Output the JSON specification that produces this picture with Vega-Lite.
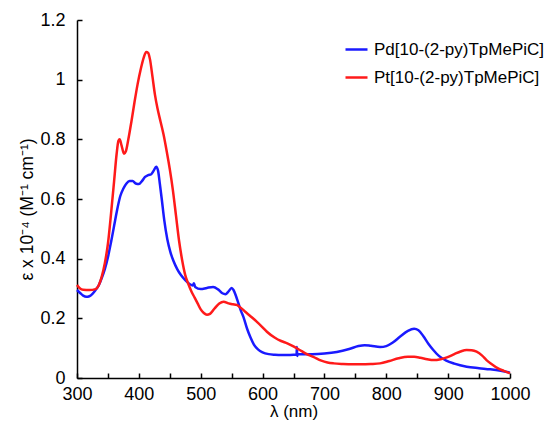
{
  "$schema": "https://vega.github.io/schema/vega-lite/v6.json",
  "width": 433,
  "height": 358,
  "autosize": {"type": "none"},
  "padding": {"left": 77, "top": 20, "right": 40, "bottom": 45},
  "background": "white",
  "config": {
    "view": {"stroke": null},
    "font": "Liberation Sans",
    "axis": {
      "grid": false,
      "domainColor": "black",
      "domainWidth": 1.5,
      "tickColor": "black",
      "tickWidth": 1.5,
      "tickSize": -5,
      "labelFont": "Liberation Sans",
      "labelFontSize": 18,
      "labelColor": "black",
      "labelFlush": false,
      "titleFont": "Liberation Sans",
      "titleFontSize": 17.5,
      "titleFontWeight": "normal",
      "titleColor": "black"
    },
    "legend": {
      "labelFont": "Liberation Sans",
      "labelFontSize": 17,
      "labelColor": "black",
      "labelLimit": 0
    }
  },
  "data": {
    "values": [
      {"wl": 300, "eps": 0.295, "complex": "Pd[10-(2-py)TpMePiC]"},
      {"wl": 305, "eps": 0.285, "complex": "Pd[10-(2-py)TpMePiC]"},
      {"wl": 310, "eps": 0.276, "complex": "Pd[10-(2-py)TpMePiC]"},
      {"wl": 315, "eps": 0.272, "complex": "Pd[10-(2-py)TpMePiC]"},
      {"wl": 320, "eps": 0.274, "complex": "Pd[10-(2-py)TpMePiC]"},
      {"wl": 325, "eps": 0.282, "complex": "Pd[10-(2-py)TpMePiC]"},
      {"wl": 330, "eps": 0.295, "complex": "Pd[10-(2-py)TpMePiC]"},
      {"wl": 335, "eps": 0.31, "complex": "Pd[10-(2-py)TpMePiC]"},
      {"wl": 340, "eps": 0.335, "complex": "Pd[10-(2-py)TpMePiC]"},
      {"wl": 345, "eps": 0.365, "complex": "Pd[10-(2-py)TpMePiC]"},
      {"wl": 350, "eps": 0.405, "complex": "Pd[10-(2-py)TpMePiC]"},
      {"wl": 355, "eps": 0.455, "complex": "Pd[10-(2-py)TpMePiC]"},
      {"wl": 360, "eps": 0.51, "complex": "Pd[10-(2-py)TpMePiC]"},
      {"wl": 365, "eps": 0.565, "complex": "Pd[10-(2-py)TpMePiC]"},
      {"wl": 370, "eps": 0.61, "complex": "Pd[10-(2-py)TpMePiC]"},
      {"wl": 375, "eps": 0.635, "complex": "Pd[10-(2-py)TpMePiC]"},
      {"wl": 380, "eps": 0.652, "complex": "Pd[10-(2-py)TpMePiC]"},
      {"wl": 385, "eps": 0.66, "complex": "Pd[10-(2-py)TpMePiC]"},
      {"wl": 390, "eps": 0.66, "complex": "Pd[10-(2-py)TpMePiC]"},
      {"wl": 395, "eps": 0.652, "complex": "Pd[10-(2-py)TpMePiC]"},
      {"wl": 400, "eps": 0.65, "complex": "Pd[10-(2-py)TpMePiC]"},
      {"wl": 405, "eps": 0.66, "complex": "Pd[10-(2-py)TpMePiC]"},
      {"wl": 410, "eps": 0.674, "complex": "Pd[10-(2-py)TpMePiC]"},
      {"wl": 415, "eps": 0.68, "complex": "Pd[10-(2-py)TpMePiC]"},
      {"wl": 420, "eps": 0.683, "complex": "Pd[10-(2-py)TpMePiC]"},
      {"wl": 424, "eps": 0.695, "complex": "Pd[10-(2-py)TpMePiC]"},
      {"wl": 428, "eps": 0.708, "complex": "Pd[10-(2-py)TpMePiC]"},
      {"wl": 431, "eps": 0.695, "complex": "Pd[10-(2-py)TpMePiC]"},
      {"wl": 434, "eps": 0.65, "complex": "Pd[10-(2-py)TpMePiC]"},
      {"wl": 437, "eps": 0.6, "complex": "Pd[10-(2-py)TpMePiC]"},
      {"wl": 441, "eps": 0.53, "complex": "Pd[10-(2-py)TpMePiC]"},
      {"wl": 446, "eps": 0.465, "complex": "Pd[10-(2-py)TpMePiC]"},
      {"wl": 451, "eps": 0.422, "complex": "Pd[10-(2-py)TpMePiC]"},
      {"wl": 456, "eps": 0.392, "complex": "Pd[10-(2-py)TpMePiC]"},
      {"wl": 462, "eps": 0.365, "complex": "Pd[10-(2-py)TpMePiC]"},
      {"wl": 468, "eps": 0.345, "complex": "Pd[10-(2-py)TpMePiC]"},
      {"wl": 475, "eps": 0.328, "complex": "Pd[10-(2-py)TpMePiC]"},
      {"wl": 482, "eps": 0.315, "complex": "Pd[10-(2-py)TpMePiC]"},
      {"wl": 487, "eps": 0.31, "complex": "Pd[10-(2-py)TpMePiC]"},
      {"wl": 489, "eps": 0.318, "complex": "Pd[10-(2-py)TpMePiC]"},
      {"wl": 491, "eps": 0.305, "complex": "Pd[10-(2-py)TpMePiC]"},
      {"wl": 500, "eps": 0.298, "complex": "Pd[10-(2-py)TpMePiC]"},
      {"wl": 510, "eps": 0.302, "complex": "Pd[10-(2-py)TpMePiC]"},
      {"wl": 520, "eps": 0.305, "complex": "Pd[10-(2-py)TpMePiC]"},
      {"wl": 528, "eps": 0.297, "complex": "Pd[10-(2-py)TpMePiC]"},
      {"wl": 535, "eps": 0.284, "complex": "Pd[10-(2-py)TpMePiC]"},
      {"wl": 540, "eps": 0.281, "complex": "Pd[10-(2-py)TpMePiC]"},
      {"wl": 545, "eps": 0.29, "complex": "Pd[10-(2-py)TpMePiC]"},
      {"wl": 550, "eps": 0.302, "complex": "Pd[10-(2-py)TpMePiC]"},
      {"wl": 553, "eps": 0.295, "complex": "Pd[10-(2-py)TpMePiC]"},
      {"wl": 557, "eps": 0.275, "complex": "Pd[10-(2-py)TpMePiC]"},
      {"wl": 561, "eps": 0.25, "complex": "Pd[10-(2-py)TpMePiC]"},
      {"wl": 565, "eps": 0.225, "complex": "Pd[10-(2-py)TpMePiC]"},
      {"wl": 569, "eps": 0.205, "complex": "Pd[10-(2-py)TpMePiC]"},
      {"wl": 575, "eps": 0.165, "complex": "Pd[10-(2-py)TpMePiC]"},
      {"wl": 580, "eps": 0.138, "complex": "Pd[10-(2-py)TpMePiC]"},
      {"wl": 586, "eps": 0.112, "complex": "Pd[10-(2-py)TpMePiC]"},
      {"wl": 593, "eps": 0.095, "complex": "Pd[10-(2-py)TpMePiC]"},
      {"wl": 600, "eps": 0.086, "complex": "Pd[10-(2-py)TpMePiC]"},
      {"wl": 610, "eps": 0.08, "complex": "Pd[10-(2-py)TpMePiC]"},
      {"wl": 620, "eps": 0.078, "complex": "Pd[10-(2-py)TpMePiC]"},
      {"wl": 630, "eps": 0.077, "complex": "Pd[10-(2-py)TpMePiC]"},
      {"wl": 640, "eps": 0.077, "complex": "Pd[10-(2-py)TpMePiC]"},
      {"wl": 650, "eps": 0.078, "complex": "Pd[10-(2-py)TpMePiC]"},
      {"wl": 655, "eps": 0.079, "complex": "Pd[10-(2-py)TpMePiC]"},
      {"wl": 655.5, "eps": 0.104, "complex": "Pd[10-(2-py)TpMePiC]"},
      {"wl": 656, "eps": 0.074, "complex": "Pd[10-(2-py)TpMePiC]"},
      {"wl": 657, "eps": 0.08, "complex": "Pd[10-(2-py)TpMePiC]"},
      {"wl": 665, "eps": 0.08, "complex": "Pd[10-(2-py)TpMePiC]"},
      {"wl": 680, "eps": 0.08, "complex": "Pd[10-(2-py)TpMePiC]"},
      {"wl": 700, "eps": 0.082, "complex": "Pd[10-(2-py)TpMePiC]"},
      {"wl": 720, "eps": 0.087, "complex": "Pd[10-(2-py)TpMePiC]"},
      {"wl": 740, "eps": 0.097, "complex": "Pd[10-(2-py)TpMePiC]"},
      {"wl": 755, "eps": 0.107, "complex": "Pd[10-(2-py)TpMePiC]"},
      {"wl": 765, "eps": 0.11, "complex": "Pd[10-(2-py)TpMePiC]"},
      {"wl": 775, "eps": 0.108, "complex": "Pd[10-(2-py)TpMePiC]"},
      {"wl": 790, "eps": 0.104, "complex": "Pd[10-(2-py)TpMePiC]"},
      {"wl": 800, "eps": 0.107, "complex": "Pd[10-(2-py)TpMePiC]"},
      {"wl": 810, "eps": 0.118, "complex": "Pd[10-(2-py)TpMePiC]"},
      {"wl": 822, "eps": 0.138, "complex": "Pd[10-(2-py)TpMePiC]"},
      {"wl": 835, "eps": 0.158, "complex": "Pd[10-(2-py)TpMePiC]"},
      {"wl": 845, "eps": 0.165, "complex": "Pd[10-(2-py)TpMePiC]"},
      {"wl": 852, "eps": 0.16, "complex": "Pd[10-(2-py)TpMePiC]"},
      {"wl": 860, "eps": 0.14, "complex": "Pd[10-(2-py)TpMePiC]"},
      {"wl": 868, "eps": 0.115, "complex": "Pd[10-(2-py)TpMePiC]"},
      {"wl": 876, "eps": 0.094, "complex": "Pd[10-(2-py)TpMePiC]"},
      {"wl": 885, "eps": 0.074, "complex": "Pd[10-(2-py)TpMePiC]"},
      {"wl": 897, "eps": 0.058, "complex": "Pd[10-(2-py)TpMePiC]"},
      {"wl": 910, "eps": 0.048, "complex": "Pd[10-(2-py)TpMePiC]"},
      {"wl": 930, "eps": 0.038, "complex": "Pd[10-(2-py)TpMePiC]"},
      {"wl": 950, "eps": 0.033, "complex": "Pd[10-(2-py)TpMePiC]"},
      {"wl": 968, "eps": 0.029, "complex": "Pd[10-(2-py)TpMePiC]"},
      {"wl": 985, "eps": 0.024, "complex": "Pd[10-(2-py)TpMePiC]"},
      {"wl": 1000, "eps": 0.018, "complex": "Pd[10-(2-py)TpMePiC]"},

      {"wl": 300, "eps": 0.312, "complex": "Pt[10-(2-py)TpMePiC]"},
      {"wl": 305, "eps": 0.3, "complex": "Pt[10-(2-py)TpMePiC]"},
      {"wl": 310, "eps": 0.296, "complex": "Pt[10-(2-py)TpMePiC]"},
      {"wl": 320, "eps": 0.295, "complex": "Pt[10-(2-py)TpMePiC]"},
      {"wl": 330, "eps": 0.298, "complex": "Pt[10-(2-py)TpMePiC]"},
      {"wl": 335, "eps": 0.31, "complex": "Pt[10-(2-py)TpMePiC]"},
      {"wl": 340, "eps": 0.34, "complex": "Pt[10-(2-py)TpMePiC]"},
      {"wl": 345, "eps": 0.385, "complex": "Pt[10-(2-py)TpMePiC]"},
      {"wl": 350, "eps": 0.45, "complex": "Pt[10-(2-py)TpMePiC]"},
      {"wl": 355, "eps": 0.55, "complex": "Pt[10-(2-py)TpMePiC]"},
      {"wl": 360, "eps": 0.66, "complex": "Pt[10-(2-py)TpMePiC]"},
      {"wl": 364, "eps": 0.75, "complex": "Pt[10-(2-py)TpMePiC]"},
      {"wl": 367, "eps": 0.795, "complex": "Pt[10-(2-py)TpMePiC]"},
      {"wl": 369, "eps": 0.8, "complex": "Pt[10-(2-py)TpMePiC]"},
      {"wl": 372, "eps": 0.78, "complex": "Pt[10-(2-py)TpMePiC]"},
      {"wl": 376, "eps": 0.752, "complex": "Pt[10-(2-py)TpMePiC]"},
      {"wl": 379, "eps": 0.76, "complex": "Pt[10-(2-py)TpMePiC]"},
      {"wl": 383, "eps": 0.8, "complex": "Pt[10-(2-py)TpMePiC]"},
      {"wl": 388, "eps": 0.86, "complex": "Pt[10-(2-py)TpMePiC]"},
      {"wl": 393, "eps": 0.925, "complex": "Pt[10-(2-py)TpMePiC]"},
      {"wl": 398, "eps": 0.985, "complex": "Pt[10-(2-py)TpMePiC]"},
      {"wl": 403, "eps": 1.035, "complex": "Pt[10-(2-py)TpMePiC]"},
      {"wl": 408, "eps": 1.075, "complex": "Pt[10-(2-py)TpMePiC]"},
      {"wl": 412, "eps": 1.093, "complex": "Pt[10-(2-py)TpMePiC]"},
      {"wl": 415, "eps": 1.09, "complex": "Pt[10-(2-py)TpMePiC]"},
      {"wl": 418, "eps": 1.068, "complex": "Pt[10-(2-py)TpMePiC]"},
      {"wl": 422, "eps": 1.01, "complex": "Pt[10-(2-py)TpMePiC]"},
      {"wl": 426, "eps": 0.95, "complex": "Pt[10-(2-py)TpMePiC]"},
      {"wl": 430, "eps": 0.905, "complex": "Pt[10-(2-py)TpMePiC]"},
      {"wl": 435, "eps": 0.86, "complex": "Pt[10-(2-py)TpMePiC]"},
      {"wl": 440, "eps": 0.815, "complex": "Pt[10-(2-py)TpMePiC]"},
      {"wl": 445, "eps": 0.76, "complex": "Pt[10-(2-py)TpMePiC]"},
      {"wl": 450, "eps": 0.7, "complex": "Pt[10-(2-py)TpMePiC]"},
      {"wl": 455, "eps": 0.63, "complex": "Pt[10-(2-py)TpMePiC]"},
      {"wl": 460, "eps": 0.545, "complex": "Pt[10-(2-py)TpMePiC]"},
      {"wl": 465, "eps": 0.46, "complex": "Pt[10-(2-py)TpMePiC]"},
      {"wl": 470, "eps": 0.395, "complex": "Pt[10-(2-py)TpMePiC]"},
      {"wl": 475, "eps": 0.345, "complex": "Pt[10-(2-py)TpMePiC]"},
      {"wl": 480, "eps": 0.315, "complex": "Pt[10-(2-py)TpMePiC]"},
      {"wl": 485, "eps": 0.29, "complex": "Pt[10-(2-py)TpMePiC]"},
      {"wl": 490, "eps": 0.27, "complex": "Pt[10-(2-py)TpMePiC]"},
      {"wl": 495, "eps": 0.25, "complex": "Pt[10-(2-py)TpMePiC]"},
      {"wl": 500, "eps": 0.23, "complex": "Pt[10-(2-py)TpMePiC]"},
      {"wl": 505, "eps": 0.218, "complex": "Pt[10-(2-py)TpMePiC]"},
      {"wl": 510, "eps": 0.212, "complex": "Pt[10-(2-py)TpMePiC]"},
      {"wl": 515, "eps": 0.215, "complex": "Pt[10-(2-py)TpMePiC]"},
      {"wl": 522, "eps": 0.232, "complex": "Pt[10-(2-py)TpMePiC]"},
      {"wl": 530, "eps": 0.25, "complex": "Pt[10-(2-py)TpMePiC]"},
      {"wl": 537, "eps": 0.256, "complex": "Pt[10-(2-py)TpMePiC]"},
      {"wl": 545, "eps": 0.25, "complex": "Pt[10-(2-py)TpMePiC]"},
      {"wl": 552, "eps": 0.247, "complex": "Pt[10-(2-py)TpMePiC]"},
      {"wl": 558, "eps": 0.245, "complex": "Pt[10-(2-py)TpMePiC]"},
      {"wl": 565, "eps": 0.235, "complex": "Pt[10-(2-py)TpMePiC]"},
      {"wl": 572, "eps": 0.222, "complex": "Pt[10-(2-py)TpMePiC]"},
      {"wl": 580, "eps": 0.208, "complex": "Pt[10-(2-py)TpMePiC]"},
      {"wl": 590, "eps": 0.19, "complex": "Pt[10-(2-py)TpMePiC]"},
      {"wl": 600, "eps": 0.17, "complex": "Pt[10-(2-py)TpMePiC]"},
      {"wl": 607, "eps": 0.155, "complex": "Pt[10-(2-py)TpMePiC]"},
      {"wl": 620, "eps": 0.135, "complex": "Pt[10-(2-py)TpMePiC]"},
      {"wl": 630, "eps": 0.124, "complex": "Pt[10-(2-py)TpMePiC]"},
      {"wl": 640, "eps": 0.116, "complex": "Pt[10-(2-py)TpMePiC]"},
      {"wl": 650, "eps": 0.106, "complex": "Pt[10-(2-py)TpMePiC]"},
      {"wl": 660, "eps": 0.094, "complex": "Pt[10-(2-py)TpMePiC]"},
      {"wl": 670, "eps": 0.082, "complex": "Pt[10-(2-py)TpMePiC]"},
      {"wl": 682, "eps": 0.071, "complex": "Pt[10-(2-py)TpMePiC]"},
      {"wl": 695, "eps": 0.058, "complex": "Pt[10-(2-py)TpMePiC]"},
      {"wl": 705, "eps": 0.052, "complex": "Pt[10-(2-py)TpMePiC]"},
      {"wl": 715, "eps": 0.049, "complex": "Pt[10-(2-py)TpMePiC]"},
      {"wl": 730, "eps": 0.047, "complex": "Pt[10-(2-py)TpMePiC]"},
      {"wl": 745, "eps": 0.046, "complex": "Pt[10-(2-py)TpMePiC]"},
      {"wl": 760, "eps": 0.046, "complex": "Pt[10-(2-py)TpMePiC]"},
      {"wl": 775, "eps": 0.047, "complex": "Pt[10-(2-py)TpMePiC]"},
      {"wl": 790, "eps": 0.049, "complex": "Pt[10-(2-py)TpMePiC]"},
      {"wl": 805, "eps": 0.057, "complex": "Pt[10-(2-py)TpMePiC]"},
      {"wl": 820, "eps": 0.066, "complex": "Pt[10-(2-py)TpMePiC]"},
      {"wl": 835, "eps": 0.071, "complex": "Pt[10-(2-py)TpMePiC]"},
      {"wl": 845, "eps": 0.071, "complex": "Pt[10-(2-py)TpMePiC]"},
      {"wl": 855, "eps": 0.068, "complex": "Pt[10-(2-py)TpMePiC]"},
      {"wl": 866, "eps": 0.063, "complex": "Pt[10-(2-py)TpMePiC]"},
      {"wl": 876, "eps": 0.06, "complex": "Pt[10-(2-py)TpMePiC]"},
      {"wl": 888, "eps": 0.063, "complex": "Pt[10-(2-py)TpMePiC]"},
      {"wl": 898, "eps": 0.069, "complex": "Pt[10-(2-py)TpMePiC]"},
      {"wl": 910, "eps": 0.08, "complex": "Pt[10-(2-py)TpMePiC]"},
      {"wl": 920, "eps": 0.089, "complex": "Pt[10-(2-py)TpMePiC]"},
      {"wl": 930, "eps": 0.094, "complex": "Pt[10-(2-py)TpMePiC]"},
      {"wl": 938, "eps": 0.093, "complex": "Pt[10-(2-py)TpMePiC]"},
      {"wl": 946, "eps": 0.088, "complex": "Pt[10-(2-py)TpMePiC]"},
      {"wl": 955, "eps": 0.075, "complex": "Pt[10-(2-py)TpMePiC]"},
      {"wl": 962, "eps": 0.06, "complex": "Pt[10-(2-py)TpMePiC]"},
      {"wl": 970, "eps": 0.047, "complex": "Pt[10-(2-py)TpMePiC]"},
      {"wl": 980, "eps": 0.033, "complex": "Pt[10-(2-py)TpMePiC]"},
      {"wl": 990, "eps": 0.024, "complex": "Pt[10-(2-py)TpMePiC]"},
      {"wl": 1000, "eps": 0.016, "complex": "Pt[10-(2-py)TpMePiC]"}
    ]
  },
  "mark": {"type": "line", "strokeWidth": 2.5, "interpolate": "monotone"},
  "encoding": {
    "x": {
      "field": "wl",
      "type": "quantitative",
      "scale": {"domain": [300, 1000], "nice": false, "zero": false},
      "axis": {
        "title": "λ (nm)",
        "values": [300, 350, 400, 450, 500, 550, 600, 650, 700, 750, 800, 850, 900, 950, 1000],
        "format": "d",
        "labelExpr": "datum.value % 100 == 0 ? datum.label : ''",
        "labelPadding": 12,
        "titlePadding": 0,
        "titleFontSize": 17
      }
    },
    "y": {
      "field": "eps",
      "type": "quantitative",
      "scale": {"domain": [0, 1.2], "nice": false},
      "axis": {
        "title": "ε x 10⁻⁴ (M⁻¹ cm⁻¹)",
        "values": [0, 0.2, 0.4, 0.6, 0.8, 1, 1.2],
        "format": ".1~f",
        "labelPadding": 17,
        "titleAngle": 270,
        "titleX": -50,
        "titleY": 189,
        "titleAlign": "center",
        "titleBaseline": "middle"
      }
    },
    "color": {
      "field": "complex",
      "type": "nominal",
      "scale": {
        "domain": ["Pd[10-(2-py)TpMePiC]", "Pt[10-(2-py)TpMePiC]"],
        "range": ["#1a1aff", "#ff1a1a"]
      },
      "legend": {
        "title": null,
        "orient": "none",
        "legendX": 267,
        "legendY": 17,
        "symbolType": "stroke",
        "symbolSize": 484,
        "symbolStrokeWidth": 2.5,
        "rowPadding": 7,
        "labelOffset": 5
      }
    }
  }
}
